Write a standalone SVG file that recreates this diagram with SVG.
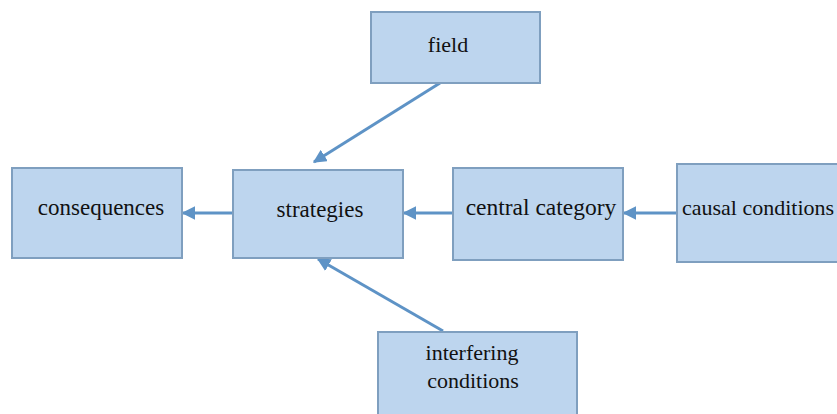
<svg xmlns="http://www.w3.org/2000/svg" width="837" height="414" viewBox="0 0 837 414">
<style>
.box{fill:#BDD5EE;stroke:#7F9FBF;stroke-width:2}
.t{font-family:'Liberation Serif','Times New Roman','DejaVu Serif',serif;font-size:23px;fill:#111;text-anchor:middle}
.c{stroke:#5E93C6;stroke-width:3;fill:none;marker-end:url(#ah)}
</style>
<defs>
<marker id="ah" viewBox="0 0 10 10" refX="9" refY="5" markerWidth="4.5" markerHeight="4.5" orient="auto" markerUnits="strokeWidth">
<path d="M0,0 L10,5 L0,10 z" fill="#5E93C6"/>
</marker>
</defs>
<rect width="837" height="414" fill="#fff"/>
<g id="connectors">
<line class="c" x1="232" y1="213" x2="183" y2="213"/>
<line class="c" x1="452" y1="213" x2="404" y2="213"/>
<line class="c" x1="676" y1="213" x2="624" y2="213"/>
<line class="c" x1="440" y1="83" x2="314" y2="162"/>
<line class="c" x1="443" y1="331" x2="318" y2="259"/>
</g>
<g id="field">
<rect class="box" x="371" y="12" width="169" height="71"/>
<text class="t" x="448" y="52" style="font-size:22px">field</text>
</g>
<g id="consequences">
<rect class="box" x="12" y="168" width="170" height="90"/>
<text class="t" x="101" y="215">consequences</text>
</g>
<g id="strategies">
<rect class="box" x="233" y="170" width="170" height="88"/>
<text class="t" x="320" y="217">strategies</text>
</g>
<g id="central_category">
<rect class="box" x="453" y="168" width="170" height="92"/>
<text class="t" x="541" y="215" style="font-size:23.5px">central category</text>
</g>
<g id="causal_conditions">
<rect class="box" x="677" y="164" width="190" height="98"/>
<text class="t" x="682" y="215" style="text-anchor:start;font-size:22px">causal conditions</text>
</g>
<g id="interfering_conditions">
<rect class="box" x="378" y="332" width="199" height="95"/>
<text class="t" x="472" y="360" style="font-size:22px">interfering</text>
<text class="t" x="473" y="388" style="font-size:22px">conditions</text>
</g>
</svg>
